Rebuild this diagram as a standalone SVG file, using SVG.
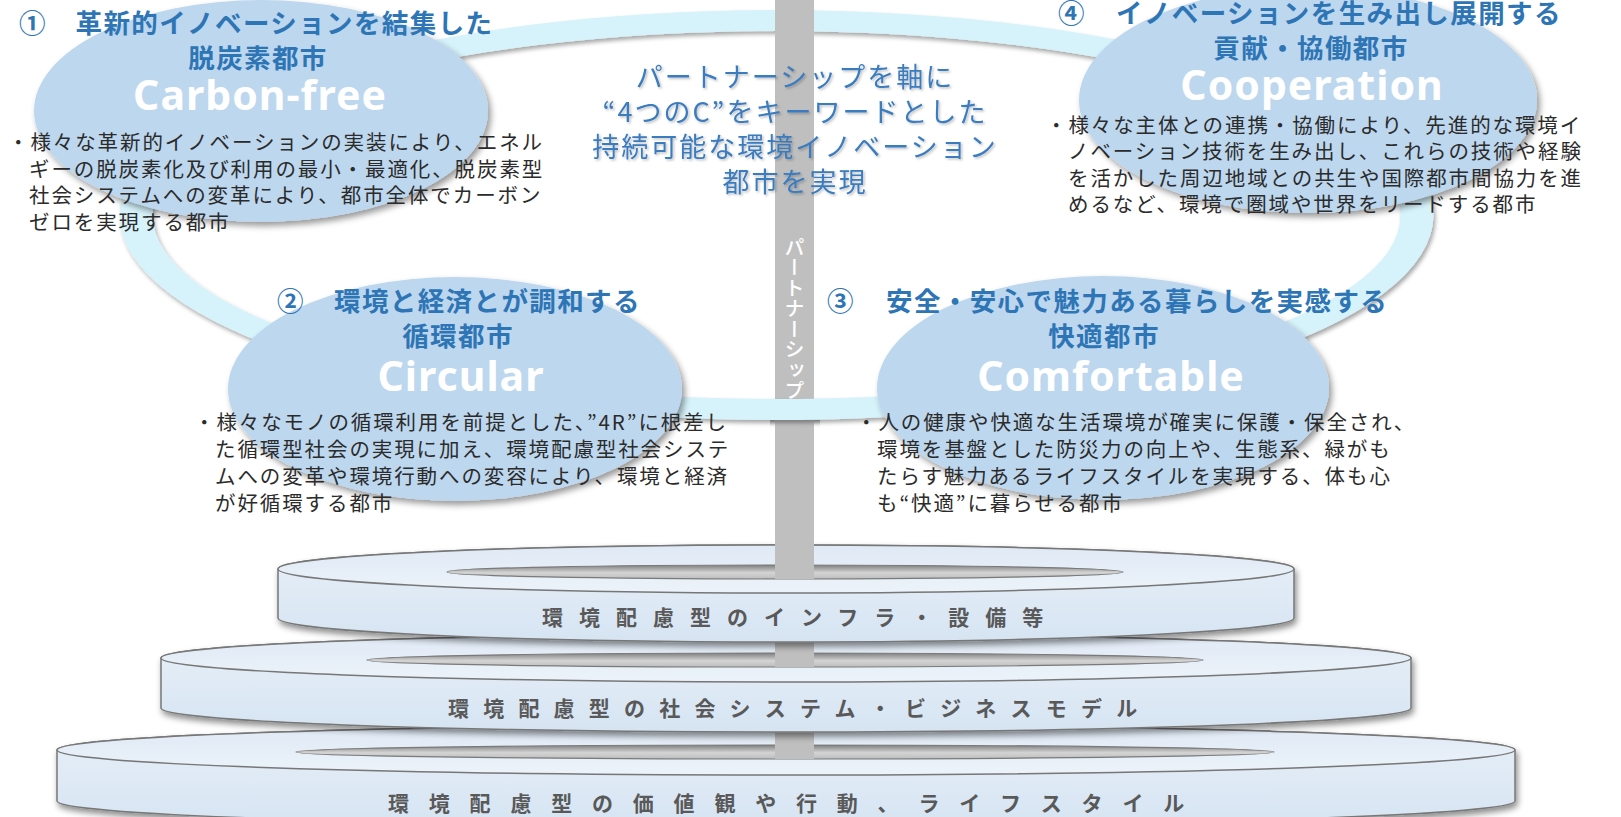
<svg xmlns="http://www.w3.org/2000/svg" width="1621" height="817" viewBox="0 0 1621 817">
<defs>
<style>
.ttl{font-family:"Noto Sans CJK JP","Noto Sans",sans-serif;font-weight:700;font-size:26.5px;fill:#2e75b6;letter-spacing:1.4px}
.sub{text-anchor:middle}
.en{font-family:"Noto Sans","Noto Sans CJK JP",sans-serif;font-weight:700;font-size:41px;fill:#ffffff;text-anchor:middle;letter-spacing:1px}
.body{font-family:"Noto Sans CJK JP",sans-serif;font-size:20.5px;fill:#2b2b2b;letter-spacing:1.9px}
.ctr{font-family:"Noto Sans CJK JP",sans-serif;font-size:27px;fill:#3b7bbf;text-anchor:middle;letter-spacing:2px}
.dtxt{font-family:"Noto Sans CJK JP",sans-serif;font-weight:700;font-size:21px;fill:#595959}
.node{fill:#bdd7ee}
.dside{fill:url(#gside);stroke:#777;stroke-width:1.5}
.dtop{fill:url(#gtop);stroke:#777;stroke-width:1.5}
.hole{fill:url(#ghole);stroke:#7a7a7a;stroke-width:1.2}
.pillar{fill:#bfbfbf}
.ring{fill:#d6f2fb;fill-rule:evenodd}
</style>
<filter id="sh" x="-10%" y="-10%" width="125%" height="135%"><feDropShadow dx="3" dy="4" stdDeviation="3" flood-color="#000" flood-opacity="0.4"/></filter>
<filter id="rsh" x="-5%" y="-10%" width="110%" height="125%"><feDropShadow dx="2" dy="3" stdDeviation="2" flood-color="#000" flood-opacity="0.35"/></filter>
<filter id="tsh" x="-5%" y="-20%" width="110%" height="150%"><feDropShadow dx="1.5" dy="1.5" stdDeviation="1" flood-color="#000" flood-opacity="0.25"/></filter>
<filter id="dsh" x="-5%" y="-30%" width="110%" height="170%"><feDropShadow dx="2" dy="4" stdDeviation="3" flood-color="#000" flood-opacity="0.45"/></filter>
<linearGradient id="gside" x1="0" y1="0" x2="0" y2="1"><stop offset="0" stop-color="#e8f0f9"/><stop offset="1" stop-color="#d6e4f2"/></linearGradient>
<linearGradient id="gtop" x1="0" y1="0" x2="0" y2="1"><stop offset="0" stop-color="#dfe9f5"/><stop offset="1" stop-color="#ecf3fa"/></linearGradient>
<linearGradient id="ghole" x1="0" y1="0" x2="0" y2="1"><stop offset="0" stop-color="#7f7f7f"/><stop offset="0.55" stop-color="#d4d4d4"/><stop offset="1" stop-color="#bdbdbd"/></linearGradient>
<clipPath id="pclip"><rect x="770" y="300" width="50" height="140"/></clipPath>
</defs>

<g id="connectors">
<path id="ring" class="ring" filter="url(#rsh)" d="M119.5,215 a657,205 0 1,0 1314,0 a657,205 0 1,0 -1314,0 Z M152.5,215 a624,184 0 1,0 1248,0 a624,184 0 1,0 -1248,0 Z"/>
</g>

<g id="base-disks">
<g id="disk3" filter="url(#dsh)">
<path class="dside" d="M57,750 A729,25 0 0 1 1515,750 L1515,801 A729,25 0 0 1 57,801 Z"/>
<ellipse class="dtop" cx="786" cy="750" rx="729" ry="25"/>
<ellipse class="hole" cx="785" cy="752" rx="489" ry="7"/>
</g>
<text class="dtxt" x="388" y="811" letter-spacing="19.8">環境配慮型の価値観や行動、ライフスタイル</text>
<rect class="pillar" x="775" y="720" width="39" height="39"/>
<g id="disk2" filter="url(#dsh)">
<path class="dside" d="M161,658 A625,24 0 0 1 1411,658 L1411,708 A625,24 0 0 1 161,708 Z"/>
<ellipse class="dtop" cx="786" cy="658" rx="625" ry="24"/>
<ellipse class="hole" cx="785" cy="660" rx="418" ry="7"/>
</g>
<text class="dtxt" x="448" y="716" letter-spacing="14.2">環境配慮型の社会システム・ビジネスモデル</text>
<rect class="pillar" x="775" y="630" width="39" height="37"/>
<g id="disk1" filter="url(#dsh)">
<path class="dside" d="M278,569 A508,24 0 0 1 1294,569 L1294,618 A508,24 0 0 1 278,618 Z"/>
<ellipse class="dtop" cx="786" cy="569" rx="508" ry="24"/>
<ellipse class="hole" cx="785" cy="572" rx="338" ry="7"/>
</g>
<text class="dtxt" x="542" y="625" letter-spacing="16">環境配慮型のインフラ・設備等</text>
</g>

<g id="pillar">
<rect class="pillar" x="775" y="0" width="39" height="579"/>
<text x="794.5" y="237" style="writing-mode:vertical-rl" font-family="Noto Sans CJK JP, sans-serif" font-size="20" font-weight="500" fill="#ffffff" letter-spacing="0.5">パートナーシップ</text>
</g>

<g id="ring-front" clip-path="url(#pclip)">
<path class="ring" filter="url(#rsh)" d="M119.5,215 a657,205 0 1,0 1314,0 a657,205 0 1,0 -1314,0 Z M152.5,215 a624,184 0 1,0 1248,0 a624,184 0 1,0 -1248,0 Z"/>
</g>

<g id="node1">
<ellipse class="node" filter="url(#sh)" cx="261" cy="111" rx="227" ry="111"/>
<text class="ttl" y="33"><tspan x="19">①</tspan><tspan x="75.5">革新的イノベーションを結集した</tspan></text>
<text class="ttl sub" x="258" y="68">脱炭素都市</text>
<text class="en" x="260" y="110">Carbon-free</text>
<text class="body"><tspan x="8" y="150">・様々な革新的イノベーションの実装により、エネル</tspan><tspan x="29" y="177">ギーの脱炭素化及び利用の最小・最適化、脱炭素型</tspan><tspan x="29" y="203">社会システムへの変革により、都市全体でカーボン</tspan><tspan x="29" y="230">ゼロを実現する都市</tspan></text>
</g>

<g id="node4">
<ellipse class="node" filter="url(#sh)" cx="1308" cy="100" rx="229" ry="113"/>
<text class="ttl" y="23"><tspan x="1058">④</tspan><tspan x="1116">イノベーションを生み出し展開する</tspan></text>
<text class="ttl sub" x="1311" y="58">貢献・協働都市</text>
<text class="en" x="1312" y="100">Cooperation</text>
<text class="body"><tspan x="1046" y="133">・様々な主体との連携・協働により、先進的な環境イ</tspan><tspan x="1068" y="159">ノベーション技術を生み出し、これらの技術や経験</tspan><tspan x="1068" y="186">を活かした周辺地域との共生や国際都市間協力を進</tspan><tspan x="1068" y="212">めるなど、環境で圏域や世界をリードする都市</tspan></text>
</g>

<g id="node2">
<ellipse class="node" filter="url(#sh)" cx="455" cy="389" rx="227" ry="112"/>
<text class="ttl" y="311"><tspan x="277">②</tspan><tspan x="334">環境と経済とが調和する</tspan></text>
<text class="ttl sub" x="458" y="346">循環都市</text>
<text class="en" x="461" y="391">Circular</text>
<text class="body"><tspan x="194" y="430">・様々なモノの循環利用を前提とした、”4R”に根差し</tspan><tspan x="215" y="457">た循環型社会の実現に加え、環境配慮型社会システ</tspan><tspan x="215" y="484">ムへの変革や環境行動への変容により、環境と経済</tspan><tspan x="215" y="511">が好循環する都市</tspan></text>
</g>

<g id="node3">
<ellipse class="node" filter="url(#sh)" cx="1103" cy="388" rx="226" ry="112"/>
<text class="ttl" y="311"><tspan x="827">③</tspan><tspan x="886">安全・安心で魅力ある暮らしを実感する</tspan></text>
<text class="ttl sub" x="1104" y="346">快適都市</text>
<text class="en" x="1111" y="391">Comfortable</text>
<text class="body"><tspan x="856" y="430">・人の健康や快適な生活環境が確実に保護・保全され、</tspan><tspan x="877" y="457">環境を基盤とした防災力の向上や、生態系、緑がも</tspan><tspan x="877" y="484">たらす魅力あるライフスタイルを実現する、体も心</tspan><tspan x="877" y="511">も“快適”に暮らせる都市</tspan></text>
</g>

<g id="center-text" filter="url(#tsh)">
<text class="ctr" x="795" y="87">パートナーシップを軸に</text>
<text class="ctr" x="795" y="122">“4つのC”をキーワードとした</text>
<text class="ctr" x="795" y="157">持続可能な環境イノベーション</text>
<text class="ctr" x="795" y="192">都市を実現</text>
</g>
</svg>
